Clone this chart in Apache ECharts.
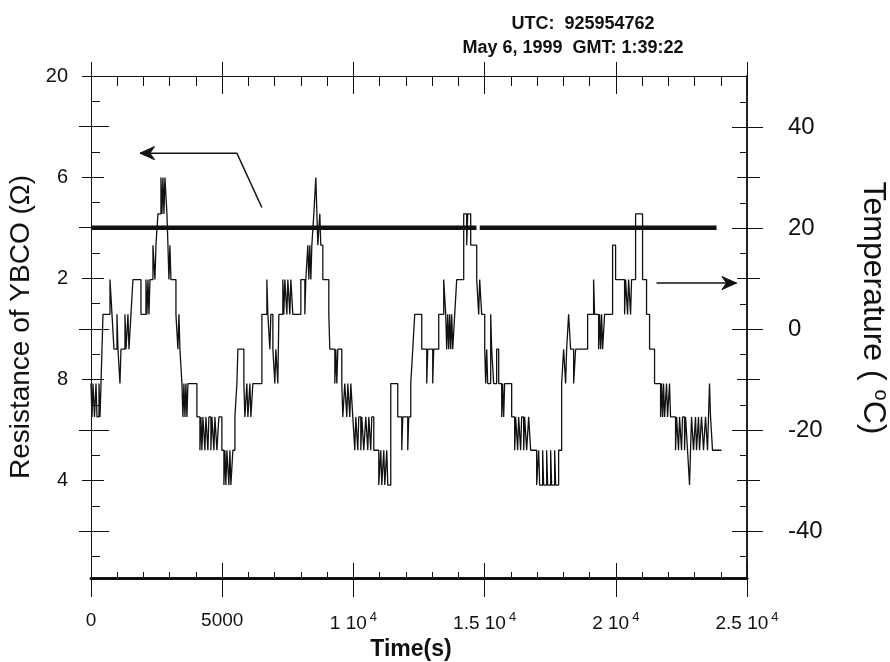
<!DOCTYPE html>
<html>
<head>
<meta charset="utf-8">
<script src="https://cdn.jsdelivr.net/npm/echarts@6/dist/echarts.min.js"></script>
<style>
  html, body { margin: 0; padding: 0; background: #fff; }
  #c { width: 890px; height: 662px; }
</style>
</head>
<body>
<div id="c"></div>
<script>
// Logged temperature (stepped sensor readings), time in seconds
const timeSec = [
  0, 38, 76, 133, 190, 228, 305, 343, 381, 457,
  724, 800, 876, 990, 1028, 1104, 1142, 1295, 1333, 1409,
  1447, 1523, 1599, 1904, 2094, 2132, 2171, 2209, 2247, 2361,
  2437, 2475, 2551, 2666, 2704, 2742, 2780, 2818, 2894, 2932,
  2970, 3008, 3046, 3237, 3313, 3351, 3389, 3465, 3503, 3541,
  3580, 3618, 3656, 3694, 4036, 4151, 4189, 4227, 4265, 4341,
  4379, 4455, 4493, 4570, 4608, 4684, 4722, 4798, 4874, 4988,
  5065, 5103, 5141, 5179, 5255, 5293, 5331, 5407, 5484, 5560,
  5598, 5826, 5864, 5940, 5979, 6055, 6093, 6169, 6512, 6702,
  6740, 6816, 6854, 6931, 7007, 7045, 7121, 7159, 7311, 7349,
  7388, 7464, 7502, 7578, 7616, 7692, 7997, 8149, 8187, 8263,
  8301, 8340, 8378, 8416, 8492, 8568, 8644, 8720, 8758, 8835,
  9063, 9101, 9292, 9330, 9368, 9406, 9558, 9596, 9672, 9748,
  9787, 9863, 9901, 9977, 10053, 10091, 10167, 10205, 10282, 10320,
  10396, 10472, 10548, 10586, 10662, 10700, 10777, 10967, 11043, 11081,
  11157, 11196, 11272, 11310, 11424, 11691, 11843, 11881, 12071, 12109,
  12186, 12262, 12338, 12604, 12795, 12833, 13023, 13061, 13252, 13442,
  13518, 13556, 13595, 13633, 13671, 13709, 13747, 13785, 13861, 13937,
  14204, 14318, 14356, 14470, 14699, 14775, 14813, 14889, 15004, 15042,
  15080, 15118, 15232, 15270, 15346, 15460, 15537, 15651, 15689, 15727,
  15765, 16032, 16146, 16184, 16260, 16298, 16374, 16412, 16489, 16527,
  16603, 16679, 16755, 16984, 17060, 17098, 17212, 17250, 17364, 17403,
  17517, 17555, 17669, 17707, 17821, 17936, 18012, 18088, 18126, 18202,
  18278, 18393, 18469, 18926, 19154, 19192, 19345, 19383, 19421, 19459,
  19497, 19573, 19878, 19992, 20335, 20373, 20449, 20487, 20563, 20601,
  20754, 21020, 21172, 21287, 21477, 21706, 21744, 21782, 21820, 21858,
  21934, 21972, 22048, 22086, 22277, 22315, 22391, 22429, 22505, 22543,
  22620, 22658, 22734, 22810, 22848, 22886, 22962, 23038, 23076, 23152,
  23191, 23267, 23343, 23419, 23495, 23571, 23610, 23686, 24028
];
const tempC = [
  -10.8, -17.4, -10.8, -17.4, -10.8, -17.4, -10.8, -17.4, -10.8, 2.9,
  9.8, 2.9, -4, 2.9, -4, -10.8, -4, 2.9, -4, 2.9,
  -4, 2.9, 9.8, 2.9, 9.8, 2.9, 9.8, 2.9, 9.8, 16.6,
  9.8, 16.6, 22.8, 30, 22.8, 30, 22.8, 30, 22.8, 16.6,
  9.8, 16.6, 9.8, 2.9, -4, 2.9, -4, -10.8, -17.4, -10.8,
  -17.4, -10.8, -17.4, -10.8, -17.4, -24, -17.4, -24, -17.4, -24,
  -17.4, -24, -17.4, -24, -17.4, -24, -17.4, -24, -17.4, -24,
  -30.9, -24, -30.9, -24, -30.9, -24, -30.9, -24, -17.4, -10.8,
  -4, -10.8, -17.4, -10.8, -17.4, -10.8, -17.4, -10.8, 2.9, 9.8,
  2.9, -4, 2.9, -4, -10.8, -4, -10.8, 2.9, 9.8, 2.9,
  9.8, 2.9, 9.8, 2.9, 9.8, 2.9, 9.8, 2.9, 9.8, 16.6,
  9.8, 16.6, 9.8, 16.6, 22.8, 30, 16.6, 22.8, 16.6, 9.8,
  2.9, -4, -10.8, -4, -10.8, -4, -10.8, -17.4, -10.8, -17.4,
  -10.8, -17.4, -10.8, -17.4, -24, -17.4, -24, -17.4, -24, -17.4,
  -24, -17.4, -24, -17.4, -24, -17.4, -24, -30.9, -24, -30.9,
  -24, -30.9, -24, -30.9, -10.8, -17.4, -24, -17.4, -24, -17.4,
  -10.8, -4, 2.9, -4, -10.8, -4, -10.8, -4, 2.9, 9.8,
  2.9, -4, 2.9, -4, 2.9, -4, 2.9, -4, 2.9, 9.8,
  22.8, 16.6, 22.8, 16.6, 9.8, 2.9, 9.8, 2.9, -4, -10.8,
  -4, -10.8, 2.9, -4, -10.8, -4, -10.8, -17.4, -10.8, -17.4,
  -10.8, -17.4, -24, -17.4, -24, -17.4, -24, -17.4, -24, -17.4,
  -24, -17.4, -24, -30.9, -24, -30.9, -24, -30.9, -24, -30.9,
  -24, -30.9, -24, -30.9, -24, -10.8, -4, -10.8, -4, 2.9,
  -4, -10.8, -4, 2.9, 9.8, 2.9, -4, 2.9, -4, 2.9,
  -4, 2.9, 16.6, 9.8, 2.9, 9.8, 2.9, 9.8, 2.9, 9.8,
  22.8, 9.8, 2.9, -4, -10.8, -17.4, -10.8, -17.4, -10.8, -17.4,
  -10.8, -17.4, -10.8, -17.4, -24, -17.4, -24, -17.4, -24, -17.4,
  -24, -17.4, -24, -30.9, -24, -17.4, -24, -17.4, -24, -17.4,
  -24, -17.4, -24, -17.4, -24, -10.8, -17.4, -24, -24
];

// YBCO resistance (flat trace with a short dropout)
const resTimeSec = [0, 14690, 14700, 14815, 23840];
const resOhm = [14, 14, '-', 14, 14];

// Axis ticks and their printed labels
const xTickValues = [0, 5000, 10000, 15000, 20000, 25000];
const xTickText = ['0', '5000', '1 10{sup|4}', '1.5 10{sup|4}', '2 10{sup|4}', '2.5 10{sup|4}'];
const xMinorValues = [1000, 2000, 3000, 4000, 6000, 7000, 8000, 9000, 11000, 12000, 13000, 14000,
  16000, 17000, 18000, 19000, 21000, 22000, 23000, 24000];
const leftTickValues = [4, 8, 12, 16, 20];
const leftTickText = ['4', '8', '2', '6', '20'];
const leftMidValues = [2, 6, 10, 14, 18];
const leftMinorValues = [1, 3, 5, 7, 9, 11, 13, 15, 17, 19];
const rightTickValues = [-40, -20, 0, 20, 40];
const rightTickText = ['-40', '-20', '0', '20', '40'];
const rightTenValues = [-30, -10, 10, 30];
const rightMinorValues = [-45, -35, -25, -15, -5, 5, 15, 25, 35, 45];

// Pointer arrows tying each trace to its axis
const resArrow = [[6512, 14.8], [5560, 16.95], [1866, 16.95]];
const tempArrow = [[21553, 9.1], [24600, 9.1]];

const FONT = '"Liberation Sans", Arial, Helvetica, sans-serif';
const INK = '#111';
const X_MIN = 0, X_MAX = 25000;
const R_MIN = 0.15, R_MAX = 20;
const T_MIN = -49.3, T_MAX = 50.1;

function tickX(position, values, len, inside) {
  return {
    type: 'value', position, min: X_MIN, max: X_MAX,
    axisLine: { show: false, onZero: false }, axisLabel: { show: false }, splitLine: { show: false },
    axisTick: { show: true, inside, length: len, customValues: values, lineStyle: { color: INK, width: 1 } }
  };
}
function tickY(position, min, max, values, len, inside) {
  return {
    type: 'value', position, min, max,
    axisLine: { show: false, onZero: false }, axisLabel: { show: false }, splitLine: { show: false },
    axisTick: { show: true, inside, length: len, customValues: values, lineStyle: { color: INK, width: 1 } }
  };
}

const chart = echarts.init(document.getElementById('c'));

const topLine = tickX('top', xTickValues, 14, false);
topLine.axisLine = { show: true, onZero: false, lineStyle: { color: INK, width: 1.2 } };

const option = {
  animation: false,
  backgroundColor: '#fff',
  title: [
    { text: 'UTC:  925954762', left: 578, top: 10, textAlign: 'center',
      textStyle: { fontFamily: FONT, fontSize: 18, fontWeight: 'bold', color: INK } },
    { text: 'May 6, 1999  GMT: 1:39:22', left: 568, top: 34, textAlign: 'center',
      textStyle: { fontFamily: FONT, fontSize: 18, fontWeight: 'bold', color: INK } }
  ],
  grid: { left: 91, right: 143, top: 76, bottom: 84, containLabel: false, outerBoundsMode: 'none' },
  xAxis: [
    {
      type: 'value', position: 'bottom', min: X_MIN, max: X_MAX,
      name: 'Time(s)', nameLocation: 'middle', nameGap: 58,
      nameTextStyle: { fontFamily: FONT, fontSize: 23, fontWeight: 'bold', color: INK, padding: [0, 16, 0, 0] },
      axisLine: { show: true, onZero: false, lineStyle: { color: INK, width: 3 } },
      axisTick: { show: true, inside: false, length: 19, customValues: xTickValues, lineStyle: { color: INK, width: 1 } },
      axisLabel: {
        show: true, margin: 33, customValues: xTickValues,
        fontFamily: FONT, fontSize: 19, color: INK,
        formatter: v => xTickText[xTickValues.indexOf(v)],
        rich: { sup: { fontFamily: FONT, fontSize: 13, color: INK, padding: [0, 0, 12, 3] } }
      },
      splitLine: { show: false }
    },
    tickX('bottom', xTickValues, 15, true),
    tickX('bottom', xMinorValues, 6, true),
    topLine,
    tickX('top', xTickValues, 18, true),
    tickX('top', xMinorValues, 10, true)
  ],
  yAxis: [
    {
      type: 'value', position: 'left', min: R_MIN, max: R_MAX,
      name: 'Resistance of YBCO (\u03A9)', nameLocation: 'middle', nameRotate: 90, nameGap: 52,
      nameTextStyle: { fontFamily: FONT, fontSize: 28, color: INK },
      axisLine: { show: true, onZero: false, lineStyle: { color: INK, width: 1 } },
      axisTick: { show: true, inside: false, length: 9, customValues: leftTickValues, lineStyle: { color: INK, width: 1 } },
      axisLabel: {
        show: true, margin: 23, customValues: leftTickValues,
        fontFamily: FONT, fontSize: 20, color: INK,
        formatter: v => leftTickText[leftTickValues.indexOf(v)]
      },
      splitLine: { show: false }
    },
    tickY('left', R_MIN, R_MAX, leftTickValues, 13, true),
    tickY('left', R_MIN, R_MAX, leftMinorValues, 9, true),
    tickY('left', R_MIN, R_MAX, leftMidValues, 12, false),
    tickY('left', R_MIN, R_MAX, leftMidValues, 18, true),
    {
      type: 'value', position: 'right', min: T_MIN, max: T_MAX,
      name: 'Temperature ( {sup|o}C)', nameLocation: 'middle', nameRotate: -90, nameGap: 108,
      nameTextStyle: {
        fontFamily: FONT, fontSize: 32, color: INK, padding: [0, 38, 0, 0],
        rich: { sup: { fontFamily: FONT, fontSize: 20, color: INK, padding: [0, 0, 16, 0] } }
      },
      axisLine: { show: true, onZero: false, lineStyle: { color: '#222', width: 2 } },
      axisTick: { show: true, inside: false, length: 16, customValues: rightTickValues, lineStyle: { color: INK, width: 1 } },
      axisLabel: {
        show: true, margin: 41, customValues: rightTickValues,
        fontFamily: FONT, fontSize: 24, color: INK,
        formatter: v => rightTickText[rightTickValues.indexOf(v)]
      },
      splitLine: { show: false }
    },
    tickY('right', T_MIN, T_MAX, rightTickValues, 15, true),
    tickY('right', T_MIN, T_MAX, rightTenValues, 10, true),
    tickY('right', T_MIN, T_MAX, rightTenValues, 13, false),
    tickY('right', T_MIN, T_MAX, rightMinorValues, 7, true)
  ],
  series: [
    {
      name: 'Temperature', type: 'line', xAxisIndex: 0, yAxisIndex: 5,
      step: 'end', showSymbol: false, symbol: 'none',
      lineStyle: { color: INK, width: 1.3 },
      data: timeSec.map((t, i) => [t, tempC[i]]),
      z: 3
    },
    {
      name: 'Resistance', type: 'line', xAxisIndex: 0, yAxisIndex: 0,
      showSymbol: false, symbol: 'none',
      lineStyle: { color: INK, width: 4.5 },
      data: resTimeSec.map((t, i) => [t, resOhm[i]]),
      z: 4
    }
  ]
};

chart.setOption(option);

// Arrows drawn in data space through the axes' own scales
function toPx(yAxisIndex, p) {
  return chart.convertToPixel({ xAxisIndex: 0, yAxisIndex }, p);
}
function arrow(yAxisIndex, pts) {
  const px = pts.map(p => toPx(yAxisIndex, p));
  const tip = px[px.length - 1];
  const prev = px[px.length - 2];
  const ang = Math.atan2(tip[1] - prev[1], tip[0] - prev[0]);
  const L = 16, W = 0.42;
  const b1 = [tip[0] - L * Math.cos(ang - W), tip[1] - L * Math.sin(ang - W)];
  const b2 = [tip[0] - L * Math.cos(ang + W), tip[1] - L * Math.sin(ang + W)];
  const back = [tip[0] - 10 * Math.cos(ang), tip[1] - 10 * Math.sin(ang)];
  return [
    { type: 'polyline', shape: { points: px }, style: { stroke: INK, lineWidth: 1.5, fill: null }, z: 10 },
    { type: 'polygon', shape: { points: [tip, b1, back, b2] }, style: { fill: INK, stroke: INK, lineWidth: 1 }, z: 10 }
  ];
}
chart.setOption({ graphic: arrow(0, resArrow).concat(arrow(5, tempArrow)) });
</script>
</body>
</html>
